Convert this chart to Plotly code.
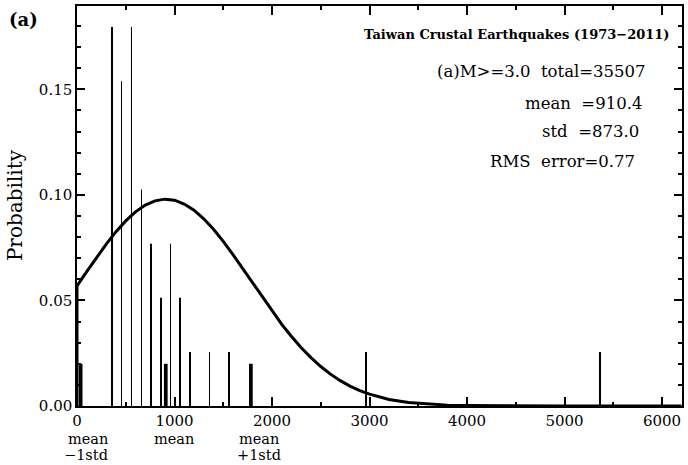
import plotly.graph_objects as go

# Histogram of intervals (probability = count / 39)
bin_x = [358, 458, 559, 660, 760, 860, 960, 1059, 1158, 1360, 1561, 2962, 5363]
bin_p = [0.1795, 0.1538, 0.1795, 0.1026, 0.0769, 0.0513, 0.0769, 0.0513,
         0.0256, 0.0256, 0.0256, 0.0256, 0.0256]

# Markers for mean-1std, mean, mean+1std
marker_x = [37.4, 910.4, 1783.4]
marker_p = [0.02, 0.02, 0.02]

# Fitted normal curve
curve_x = [0, 0, 100, 200, 300, 400, 500, 600, 700, 800, 900, 1000, 1100, 1200,
           1300, 1400, 1500, 1600, 1700, 1800, 1900, 2000, 2100, 2200, 2300,
           2400, 2500, 2600, 2700, 2800, 2900, 3000, 3200, 3400, 3600, 3800,
           4000, 4500, 5000, 5500, 6000, 6200]
curve_y = [0.0, 0.0569, 0.0637, 0.0704, 0.0767, 0.0826, 0.0877, 0.0920, 0.0952,
           0.0972, 0.0980, 0.0975, 0.0957, 0.0928, 0.0887, 0.0837, 0.0780,
           0.0717, 0.0651, 0.0583, 0.0515, 0.0450, 0.0387, 0.0329, 0.0276,
           0.0229, 0.0187, 0.0151, 0.0120, 0.0094, 0.0073, 0.0056, 0.0031,
           0.0017, 0.0009, 0.0004, 0.0002, 0.0, 0.0, 0.0, 0.0, 0.0]

x_tickvals = [0, 1000, 2000, 3000, 4000, 5000, 6000]
x_ticktext = ["0", "1000", "2000", "3000", "4000", "5000", "6000"]
y_tickvals = [0.0, 0.05, 0.10, 0.15]
y_ticktext = ["0.00", "0.05", "0.10", "0.15"]

X_RANGE = [0, 6205]
Y_RANGE = [0, 0.1895]
FONT = "DejaVu Serif"

fig = go.Figure()
fig.add_trace(go.Bar(x=bin_x, y=bin_p, width=6,
                     marker=dict(color="black", line=dict(width=0))))
fig.add_trace(go.Bar(x=marker_x, y=marker_p, width=38,
                     marker=dict(color="black", line=dict(width=0))))
fig.add_trace(go.Scatter(x=curve_x, y=curve_y, mode="lines",
                         line=dict(color="black", width=3)))

fig.update_layout(
    width=688, height=465,
    margin=dict(l=77, r=5, t=4, b=59),
    plot_bgcolor="white", paper_bgcolor="white",
    showlegend=False, barmode="overlay",
    font=dict(family=FONT, color="black", size=15),
    xaxis=dict(range=X_RANGE, tickmode="array", tickvals=x_tickvals,
               ticktext=x_ticktext, ticks="inside", ticklen=9, tickwidth=2,
               tickcolor="black", showline=True, linecolor="black", linewidth=1.5,
               mirror="allticks", showgrid=False, zeroline=False,
               tickfont=dict(family=FONT, size=15),
               minor=dict(ticks="inside", dtick=500, tick0=0, ticklen=4,
                          tickwidth=2, tickcolor="black", showgrid=False)),
    yaxis=dict(range=Y_RANGE, tickmode="array", tickvals=y_tickvals,
               ticktext=y_ticktext, ticks="inside", ticklen=8, tickwidth=2,
               tickcolor="black", showline=True, linecolor="black", linewidth=1.5,
               mirror="allticks", showgrid=False, zeroline=False,
               tickfont=dict(family=FONT, size=15),
               minor=dict(ticks="inside", dtick=0.01, tick0=0, ticklen=4,
                          tickwidth=2, tickcolor="black", showgrid=False)),
)


def paper_text(text, px, py, size, bold=False, anchor="left"):
    t = "<b>%s</b>" % text if bold else text
    return dict(text=t, xref="paper", yref="paper",
                x=(px - 77) / 606, y=(406 - py) / 402,
                xanchor=anchor, yanchor="middle", showarrow=False,
                font=dict(size=size, family=FONT, color="black"))


annotations = []
annotations.append(dict(text="<b>(a)</b>", xref="paper", yref="paper",
                        x=-70 / 606, y=(406 - 18) / 402, xanchor="left",
                        yanchor="middle", showarrow=False,
                        font=dict(size=18, family=FONT, color="black")))
annotations.append(dict(text="Probability", xref="paper", yref="paper",
                        x=-62 / 606, y=(406 - 204) / 402, textangle=-90,
                        xanchor="center", yanchor="middle", showarrow=False,
                        font=dict(size=20, family=FONT, color="black")))
annotations.append(paper_text("Taiwan Crustal Earthquakes (1973−2011)", 673, 33, 13,
                              bold=True, anchor="right"))
annotations.append(paper_text("(a)M&gt;=3.0  total=35507", 436, 70, 16.5))
annotations.append(paper_text("mean  =910.4", 524, 102, 16.5))
annotations.append(paper_text("std  =873.0", 541, 130, 16.5))
annotations.append(paper_text("RMS  error=0.77", 489, 160, 16.5))
# mean labels under the axis
annotations.append(paper_text("mean", 88, 439, 14.5, anchor="center"))
annotations.append(paper_text("−1std", 86, 455, 14.5, anchor="center"))
annotations.append(paper_text("mean", 174, 439, 14.5, anchor="center"))
annotations.append(paper_text("mean", 259, 439, 14.5, anchor="center"))
annotations.append(paper_text("+1std", 259, 455, 14.5, anchor="center"))
fig.update_layout(annotations=annotations)

fig.write_html("out.html")
